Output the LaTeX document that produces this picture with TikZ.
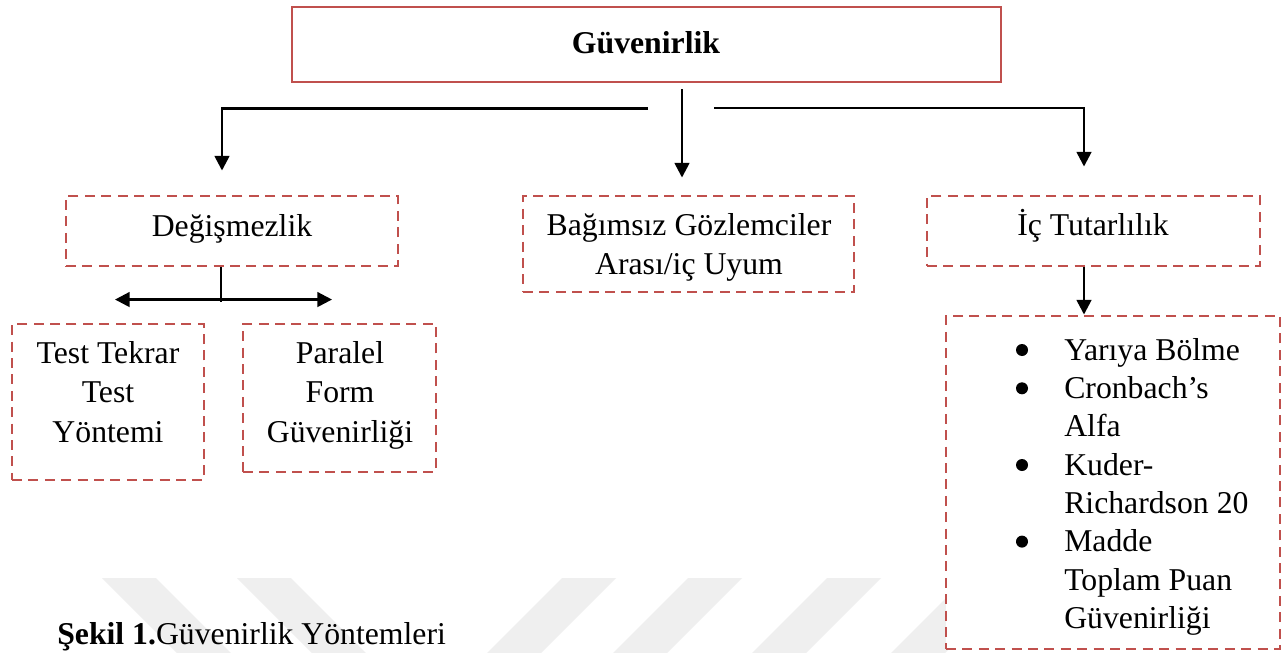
\documentclass[tikz,border=0pt]{standalone}
\usepackage{fontspec}
\setmainfont{Liberation Serif}
\usetikzlibrary{arrows.meta,calc}
\definecolor{boxred}{RGB}{192,80,77}
\definecolor{wmgray}{RGB}{239,239,239}
\newcommand\pxu{0.75pt}
\begin{document}
\begin{tikzpicture}[x=0.75pt,y=-0.75pt,
  boxsolid/.style={rectangle,draw=boxred,line width=2.2pt,fill=white,inner sep=0pt},
  boxdash/.style={rectangle,draw=boxred,line width=2.2pt,dash pattern=on 7.5pt off 4.8pt,fill=white,inner sep=0pt},
  txt/.style={inner sep=0pt,anchor=base,font=\fontsize{23.8pt}{28.6pt}\selectfont},
  ltxt/.style={txt,anchor=base west},
  bul/.style={circle,fill=black,draw=none,inner sep=0pt,minimum size=12*\pxu},
  conn/.style={line width=1.9pt,black},
  arr/.style={conn,-{Triangle[length=11pt,width=11pt]}},
  darr/.style={conn,{Triangle[length=11pt,width=11pt]}-{Triangle[length=11pt,width=11pt]}},
  wm/.style={fill=wmgray,draw=none}]
\useasboundingbox (0,0) rectangle (1282,653);
\fill[white] (0,0) rectangle (1282,653);
% watermark stripes
\fill[wm] (102,578) -- (156,578) -- (231,653) -- (177,653) -- cycle;
\fill[wm] (237,578) -- (291,578) -- (366,653) -- (312,653) -- cycle;
\fill[wm] (562,578) -- (616,578) -- (541,653) -- (487,653) -- cycle;
\fill[wm] (688,578) -- (742,578) -- (667,653) -- (613,653) -- cycle;
\fill[wm] (827,578) -- (881,578) -- (806,653) -- (752,653) -- cycle;
\fill[wm] (966,578) -- (1020,578) -- (945,653) -- (891,653) -- cycle;
% boxes
\node[boxsolid,minimum width=709*\pxu,minimum height=75*\pxu] (top) at (646.5,44.5) {};
\node[boxdash,minimum width=332*\pxu,minimum height=70*\pxu] (deg) at (232,231) {};
\node[boxdash,minimum width=331*\pxu,minimum height=96*\pxu] (bag) at (688.5,244) {};
\node[boxdash,minimum width=333*\pxu,minimum height=70*\pxu] (ic) at (1093.5,231) {};
\node[boxdash,minimum width=192*\pxu,minimum height=156*\pxu] (ttt) at (108,402) {};
\node[boxdash,minimum width=193*\pxu,minimum height=148*\pxu] (pfg) at (339.5,398) {};
\node[boxdash,minimum width=334*\pxu,minimum height=333*\pxu] (lst) at (1113,482.5) {};
% texts
\node[txt,font=\fontsize{23.8pt}{28.6pt}\selectfont\bfseries] (t0) at (646,53) {Güvenirlik};
\node[txt] (t1) at (232,236) {Değişmezlik};
\node[txt] (t2a) at (689,235) {Bağımsız Gözlemciler};
\node[txt] (t2b) at (689,274) {Arası/iç Uyum};
\node[txt] (t3) at (1093,235) {İç Tutarlılık};
\node[txt] (t4a) at (108,363) {Test Tekrar};
\node[txt] (t4b) at (108,402) {Test};
\node[txt] (t4c) at (108,442) {Yöntemi};
\node[txt] (t5a) at (340,363) {Paralel};
\node[txt] (t5b) at (340,402) {Form};
\node[txt] (t5c) at (340,442) {Güvenirliği};
\node[bul] (b1) at (1022,350) {};
\node[bul] (b2) at (1022,388.3) {};
\node[bul] (b3) at (1022,465) {};
\node[bul] (b4) at (1022,541.6) {};
\node[ltxt] (l1) at (1064,360) {Yarıya Bölme};
\node[ltxt] (l2) at (1064,398.3) {Cronbach’s};
\node[ltxt] (l3) at (1064,436.6) {Alfa};
\node[ltxt] (l4) at (1064,475) {Kuder-};
\node[ltxt] (l5) at (1064,513.3) {Richardson 20};
\node[ltxt] (l6) at (1064,551.6) {Madde};
\node[ltxt] (l7) at (1064,590) {Toplam Puan};
\node[ltxt] (l8) at (1064,628.3) {Güvenirliği};
\node[ltxt] (cap) at (57,644) {\textbf{Şekil 1.}Güvenirlik Yöntemleri};
% connectors
\coordinate (lstart) at (648,108.5);
\coordinate (rstart) at (714,108);
\draw[arr] (lstart) -| ($(deg.north)+(-10,-24)$);
\draw[arr] ($(top.south)+(35.5,6)$) -- ($(bag.north)+(-6.5,-17)$);
\draw[arr] (rstart) -| ($(ic.north)+(-9.5,-28)$);
\coordinate (split) at ($(deg.south)+(-11,35)$);
\draw[conn] ($(deg.south)+(-11,0)$) -- (split);
\draw[darr] ($(ttt.north)+(7,-23)$) -- ($(pfg.north)+(-7.5,-23)$);
\draw[arr] ($(ic.south)+(-9.5,0)$) -- ($(lst.north)+(-29,0)$);
\end{tikzpicture}
\end{document}
